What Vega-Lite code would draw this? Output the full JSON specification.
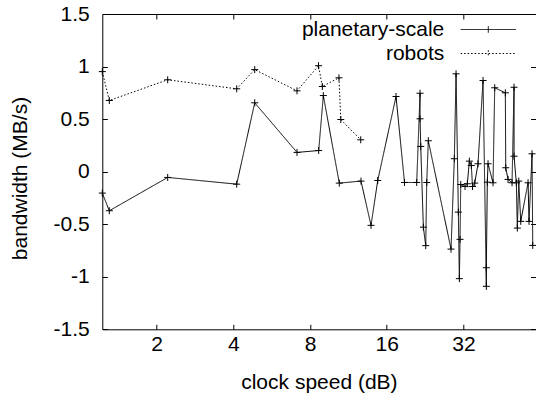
{
  "$schema": "https://vega.github.io/schema/vega-lite/v6.json",
  "width": 433.2,
  "height": 315.3,
  "autosize": {"type": "none"},
  "padding": {"left": 102.3, "top": 14, "right": 0.5, "bottom": 69.7},
  "background": "white",
  "config": {
    "view": {"stroke": null},
    "font": "Liberation Sans",
    "axis": {
      "domainColor": "black", "tickColor": "black", "labelColor": "black", "titleColor": "black",
      "labelFont": "Liberation Sans", "titleFont": "Liberation Sans",
      "labelFontSize": 21, "titleFontSize": 21, "titleFontWeight": "normal",
      "grid": false, "tickSize": -5, "domainWidth": 1, "tickWidth": 1
    },
    "legend": {"labelFont": "Liberation Sans", "labelFontSize": 21, "labelColor": "black"}
  },
  "data": {"values": [
    {"s": "planetary-scale", "i": 1, "x": 1.223, "y": -0.204},
    {"s": "planetary-scale", "i": 2, "x": 1.303, "y": -0.372},
    {"s": "planetary-scale", "i": 3, "x": 2.209, "y": -0.055},
    {"s": "planetary-scale", "i": 4, "x": 4.122, "y": -0.119},
    {"s": "planetary-scale", "i": 5, "x": 4.851, "y": 0.655},
    {"s": "planetary-scale", "i": 6, "x": 7.11, "y": 0.183},
    {"s": "planetary-scale", "i": 7, "x": 8.65, "y": 0.201},
    {"s": "planetary-scale", "i": 8, "x": 9.02, "y": 0.724},
    {"s": "planetary-scale", "i": 9, "x": 10.42, "y": -0.109},
    {"s": "planetary-scale", "i": 10, "x": 12.68, "y": -0.09},
    {"s": "planetary-scale", "i": 11, "x": 13.88, "y": -0.511},
    {"s": "planetary-scale", "i": 12, "x": 14.75, "y": -0.084},
    {"s": "planetary-scale", "i": 13, "x": 17.4, "y": 0.715},
    {"s": "planetary-scale", "i": 14, "x": 18.79, "y": -0.103},
    {"s": "planetary-scale", "i": 15, "x": 20.98, "y": -0.103},
    {"s": "planetary-scale", "i": 16, "x": 21.62, "y": 0.746},
    {"s": "planetary-scale", "i": 17, "x": 21.62, "y": 0.503},
    {"s": "planetary-scale", "i": 18, "x": 21.76, "y": 0.24},
    {"s": "planetary-scale", "i": 19, "x": 22.28, "y": -0.528},
    {"s": "planetary-scale", "i": 20, "x": 22.76, "y": -0.704},
    {"s": "planetary-scale", "i": 21, "x": 22.97, "y": -0.103},
    {"s": "planetary-scale", "i": 22, "x": 23.3, "y": 0.294},
    {"s": "planetary-scale", "i": 23, "x": 28.61, "y": -0.737},
    {"s": "planetary-scale", "i": 24, "x": 29.48, "y": 0.123},
    {"s": "planetary-scale", "i": 25, "x": 29.94, "y": 0.931},
    {"s": "planetary-scale", "i": 26, "x": 30.57, "y": -0.385},
    {"s": "planetary-scale", "i": 27, "x": 30.85, "y": -1.018},
    {"s": "planetary-scale", "i": 28, "x": 31.04, "y": -0.644},
    {"s": "planetary-scale", "i": 29, "x": 31.24, "y": -0.122},
    {"s": "planetary-scale", "i": 30, "x": 32.47, "y": -0.141},
    {"s": "planetary-scale", "i": 31, "x": 33.16, "y": -0.115},
    {"s": "planetary-scale", "i": 32, "x": 33.76, "y": 0.1},
    {"s": "planetary-scale", "i": 33, "x": 34.37, "y": 0.059},
    {"s": "planetary-scale", "i": 34, "x": 34.75, "y": -0.141},
    {"s": "planetary-scale", "i": 35, "x": 35.45, "y": -0.109},
    {"s": "planetary-scale", "i": 36, "x": 36.52, "y": 0.075},
    {"s": "planetary-scale", "i": 37, "x": 38.21, "y": 0.867},
    {"s": "planetary-scale", "i": 38, "x": 39.37, "y": -1.091},
    {"s": "planetary-scale", "i": 39, "x": 39.37, "y": -0.914},
    {"s": "planetary-scale", "i": 40, "x": 39.72, "y": -0.1},
    {"s": "planetary-scale", "i": 41, "x": 39.98, "y": 0.075},
    {"s": "planetary-scale", "i": 42, "x": 41.82, "y": -0.106},
    {"s": "planetary-scale", "i": 43, "x": 42.47, "y": 0.798},
    {"s": "planetary-scale", "i": 44, "x": 46.75, "y": 0.75},
    {"s": "planetary-scale", "i": 45, "x": 46.92, "y": 0.037},
    {"s": "planetary-scale", "i": 46, "x": 47.9, "y": -0.074},
    {"s": "planetary-scale", "i": 47, "x": 49.67, "y": -0.106},
    {"s": "planetary-scale", "i": 48, "x": 50.57, "y": 0.803},
    {"s": "planetary-scale", "i": 49, "x": 50.57, "y": 0.147},
    {"s": "planetary-scale", "i": 50, "x": 51.64, "y": -0.106},
    {"s": "planetary-scale", "i": 51, "x": 52.1, "y": -0.537},
    {"s": "planetary-scale", "i": 52, "x": 52.77, "y": -0.09},
    {"s": "planetary-scale", "i": 53, "x": 53.73, "y": -0.473},
    {"s": "planetary-scale", "i": 54, "x": 57.4, "y": -0.106},
    {"s": "planetary-scale", "i": 55, "x": 57.92, "y": -0.473},
    {"s": "planetary-scale", "i": 56, "x": 59.51, "y": 0.17},
    {"s": "planetary-scale", "i": 57, "x": 59.89, "y": -0.702},
    {"s": "robots", "i": 1, "x": 1.223, "y": 0.952},
    {"s": "robots", "i": 2, "x": 1.303, "y": 0.677},
    {"s": "robots", "i": 3, "x": 2.209, "y": 0.874},
    {"s": "robots", "i": 4, "x": 4.122, "y": 0.788},
    {"s": "robots", "i": 5, "x": 4.851, "y": 0.971},
    {"s": "robots", "i": 6, "x": 7.11, "y": 0.769},
    {"s": "robots", "i": 7, "x": 8.636, "y": 1.008},
    {"s": "robots", "i": 8, "x": 8.94, "y": 0.81},
    {"s": "robots", "i": 9, "x": 10.39, "y": 0.893},
    {"s": "robots", "i": 10, "x": 10.56, "y": 0.496},
    {"s": "robots", "i": 11, "x": 12.65, "y": 0.303}
  ]},
  "layer": [
    {
      "mark": {"type": "line", "color": "black", "strokeWidth": 1},
      "encoding": {
        "x": {"field": "x", "type": "quantitative",
              "scale": {"type": "log", "base": 2, "domain": [1.223, 61.4], "nice": false},
              "axis": {"orient": "bottom", "values": [2, 4, 8, 16, 32], "labelExpr": "'' + datum.value",
                       "labelPadding": 9, "title": "clock speed (dB)", "titlePadding": 17, "labelFlush": false}},
        "y": {"field": "y", "type": "quantitative",
              "scale": {"domain": [-1.5, 1.5], "nice": false},
              "axis": {"orient": "left", "values": [-1.5, -1, -0.5, 0, 0.5, 1, 1.5], "labelExpr": "'' + datum.value",
                       "labelPadding": 18, "title": "bandwidth (MB/s)", "titlePadding": 23, "titleY": 164, "labelFlush": false}},
        "strokeDash": {"field": "s", "type": "nominal",
                       "scale": {"domain": ["planetary-scale", "robots"], "range": [[1, 0], [1.5, 2]]},
                       "legend": {"orient": "none", "legendX": 375.5, "legendY": 5, "title": null,
                                  "symbolType": "M-4.1,0H4.1M0,-0.48V0.48", "symbolSize": 182,
                                  "symbolStrokeColor": "black", "symbolStrokeWidth": 1,
                                  "rowPadding": 2,
                                  "labelAlign": "right", "labelOffset": -54.5, "padding": 0}},
        "order": {"field": "i", "type": "quantitative"}
      }
    },
    {
      "mark": {"type": "point", "shape": "M-1,0H1M0,-1V1", "filled": false, "color": "black", "strokeWidth": 1, "size": 49, "opacity": 1},
      "encoding": {
        "x": {"field": "x", "type": "quantitative",
              "axis": {"orient": "top", "values": [2, 4, 8, 16, 32], "labels": false, "title": null}},
        "y": {"field": "y", "type": "quantitative",
              "axis": {"orient": "right", "values": [-1.5, -1, -0.5, 0, 0.5, 1, 1.5], "labels": false, "title": null, "domain": false}},
        "detail": {"field": "s", "type": "nominal"}
      }
    }
  ],
  "resolve": {"axis": {"x": "independent", "y": "independent"}}
}
